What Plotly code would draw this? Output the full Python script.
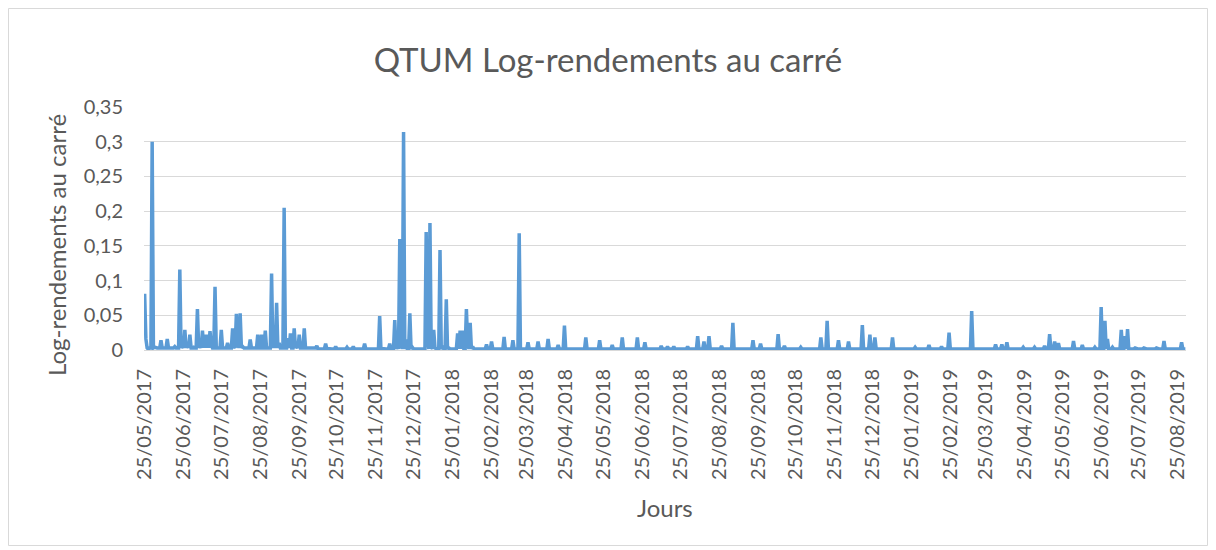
import datetime as dt
import plotly.graph_objects as go

# ---- data ----
start_date = dt.date(2017, 5, 25)
n_days = 829  # 25/05/2017 .. 31/08/2019
baseline_early = 0.003   # typical low level before day 137
baseline_late = 0.0015   # typical low level afterwards

spike_days = [
    0, 1, 3, 6, 8, 13, 15, 18, 20, 24, 28, 30, 32, 34, 36, 39, 42, 44, 46, 48,
    50, 52, 53, 56, 58, 61, 63, 66, 68, 70, 71, 73, 74, 76, 78, 84, 86, 90, 93, 96,
    98, 101, 103, 105, 107, 111, 114, 116, 119, 121, 123, 125, 127, 129, 137,
    144, 146, 152, 161, 166, 175, 187, 189, 195, 199, 201, 203, 204, 206, 208, 211, 213,
    224, 225, 227, 228, 230, 231, 235, 237, 240, 242, 249, 251, 253, 256, 257, 259, 261,
    272, 276, 286, 293, 298, 305, 313, 321, 329, 334, 351, 362, 372, 380, 392, 398,
    411, 416, 421, 432, 440, 445, 449, 459, 468, 484, 490, 504, 509, 522, 538, 543,
    552, 560, 571, 577, 581, 595, 613,
    624, 634, 640, 658, 677, 682, 686, 699, 708, 716, 720, 724, 727, 739, 746, 756,
    761, 764, 766, 770, 777, 780, 782, 788, 795, 805, 811, 825,
]
spike_vals = [
    0.081, 0.016, 0.001, 0.300, 0.004, 0.014, 0.003, 0.016, 0.003, 0.005, 0.116, 0.006, 0.029, 0.008, 0.022, 0.004, 0.059, 0.008, 0.028, 0.022,
    0.022, 0.027, 0.008, 0.091, 0.003, 0.029, 0.003, 0.010, 0.003, 0.031, 0.005, 0.052, 0.010, 0.053, 0.005, 0.015, 0.003, 0.022, 0.022, 0.028,
    0.003, 0.110, 0.010, 0.068, 0.010, 0.205, 0.017, 0.024, 0.031, 0.005, 0.022, 0.003, 0.031, 0.003, 0.006,
    0.009, 0.002, 0.005, 0.004, 0.005, 0.009, 0.049, 0.002, 0.009, 0.043, 0.008, 0.160, 0.010, 0.314, 0.015, 0.053, 0.004,
    0.170, 0.020, 0.183, 0.005, 0.029, 0.003, 0.144, 0.004, 0.073, 0.003, 0.024, 0.028, 0.028, 0.059, 0.010, 0.039, 0.005,
    0.008, 0.012, 0.019, 0.014, 0.168, 0.011, 0.012, 0.016, 0.007, 0.035, 0.018, 0.014, 0.007, 0.018, 0.018, 0.011,
    0.006, 0.005, 0.005, 0.005, 0.020, 0.012, 0.020, 0.006, 0.039, 0.014, 0.009, 0.023, 0.006, 0.004, 0.018, 0.042,
    0.014, 0.012, 0.036, 0.022, 0.018, 0.018, 0.004,
    0.007, 0.005, 0.025, 0.056, 0.008, 0.008, 0.011, 0.004, 0.004, 0.006, 0.023, 0.012, 0.010, 0.013, 0.007, 0.004,
    0.062, 0.042, 0.016, 0.004, 0.029, 0.020, 0.030, 0.003, 0.003, 0.003, 0.013, 0.011,
]

y_tick_vals = [0, 0.05, 0.1, 0.15, 0.2, 0.25, 0.3, 0.35]
y_tick_text = ["0", "0,05", "0,1", "0,15", "0,2", "0,25", "0,3", "0,35"]

x_tick_dates = []
y_, m_ = 2017, 5
while (y_, m_) <= (2019, 8):
    x_tick_dates.append(dt.date(y_, m_, 25))
    m_ += 1
    if m_ > 12:
        m_ = 1
        y_ += 1
x_tick_text = [d.strftime("%d/%m/%Y") for d in x_tick_dates]

# ---- build daily series ----
dates = [start_date + dt.timedelta(days=i) for i in range(n_days)]
values = [baseline_early if i < 137 else baseline_late for i in range(n_days)]
for d, v in zip(spike_days, spike_vals):
    values[d] = v

FONT = "Lato"
GREY = "#595959"

fig = go.Figure()
fig.add_trace(go.Scatter(
    x=dates, y=values, mode="lines",
    line=dict(color="#5B9BD5", width=3.5),
    hoverinfo="x+y", showlegend=False,
))

# figure is placed at (8, 8) in the page; all pixel values below are figure pixels
W, H = 1200, 538
L, T = 136, 99
R = W - 1178
B = H - 342
pw, ph = W - L - R, H - T - B

def px_to_paper_x(px):
    return (px - L) / pw

def px_to_paper_y(py):
    return (H - B - py) / ph

fig.update_layout(
    width=W, height=H,
    margin=dict(l=L, r=R, t=T, b=B, autoexpand=False),
    paper_bgcolor="white", plot_bgcolor="white",
    font=dict(family=FONT, color=GREY),
    title=dict(text="QTUM Log-rendements au carré", x=0.5, xanchor="center",
               y=1 - 52 / H, yanchor="middle", font=dict(size=33, color=GREY, family=FONT)),
    xaxis=dict(
        type="date",
        range=[dt.datetime(2017, 5, 24, 12), dt.datetime(2019, 8, 31, 12)],
        tickvals=x_tick_dates, ticktext=x_tick_text, tickangle=-90,
        tickfont=dict(size=20, color=GREY, family=FONT),
        showgrid=False, zeroline=False,
        showline=False, ticks="", ticklabelstandoff=14,
    ),
    yaxis=dict(
        range=[0, 0.35], tickvals=y_tick_vals, ticktext=y_tick_text,
        tickfont=dict(size=20, color=GREY, family=FONT),
        showgrid=True, gridcolor="#D9D9D9", gridwidth=1,
        zeroline=True, zerolinecolor="#D9D9D9", zerolinewidth=1,
        showline=False, ticks="", ticklabelstandoff=20,
    ),
    annotations=[
        dict(text="Jours", xref="paper", yref="paper", x=px_to_paper_x(657), y=px_to_paper_y(499),
             xanchor="center", yanchor="middle", showarrow=False,
             font=dict(size=24, color=GREY, family=FONT)),
        dict(text="Log-rendements au carré", xref="paper", yref="paper",
             x=px_to_paper_x(48), y=px_to_paper_y(237), textangle=-90,
             xanchor="center", yanchor="middle", showarrow=False,
             font=dict(size=24, color=GREY, family=FONT)),
    ],
    shapes=[
        dict(type="rect", xref="paper", yref="paper",
             x0=px_to_paper_x(0.5), x1=px_to_paper_x(W - 0.5),
             y0=px_to_paper_y(H - 0.5), y1=px_to_paper_y(0.5),
             line=dict(color="#D9D9D9", width=1), fillcolor="rgba(0,0,0,0)", layer="below"),
    ],
)

fig.write_html("out.html")
